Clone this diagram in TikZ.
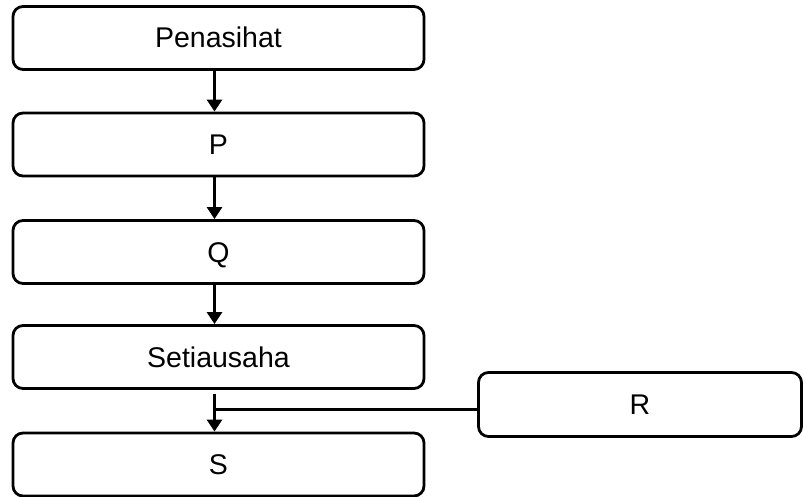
\documentclass[tikz,border=0pt]{standalone}
\usepackage{fontspec}
\setmainfont{Liberation Sans}
\usetikzlibrary{arrows.meta,calc}
\begin{document}
\begin{tikzpicture}[x=1pt,y=-1pt,
  box/.style={draw,line width=2.8pt,rounded corners=10pt,minimum width=411pt,minimum height=63pt,inner sep=0pt,text height=20pt,text depth=0pt,font=\fontsize{28.5}{32}\selectfont},
  rbox/.style={box,minimum width=323pt,minimum height=64pt},
  arr/.style={line width=2.8pt,-{Triangle[length=12pt,width=15pt]}},
  ln/.style={line width=2.6pt}]
\useasboundingbox (0,0) rectangle (803,497);
\node[box] (pen) at (218.5,38) {Penasihat};
\node[box] (p) at (218.5,144.5) {P};
\node[box] (q) at (218.5,252) {Q};
\node[box] (set) at (218.5,357) {Setiausaha};
\node[box] (s) at (218.5,464.5) {S};
\node[rbox] (r) at (640,404.5) {R};
\draw[arr] ([xshift=-4pt]pen.south) -- ([xshift=-4pt]p.north);
\draw[arr] ([xshift=-4pt]p.south) -- ([xshift=-4pt]q.north);
\draw[arr] ([xshift=-4pt]q.south) -- ([xshift=-4pt]set.north);
\draw[arr] ([xshift=-4pt,yshift=-4pt]set.south) -- ([xshift=-4pt]s.north);
\coordinate (j) at ($(set.south)+(-4,19.5)$);
\draw[ln] (r.west |- j) -- (j);
\end{tikzpicture}
\end{document}
